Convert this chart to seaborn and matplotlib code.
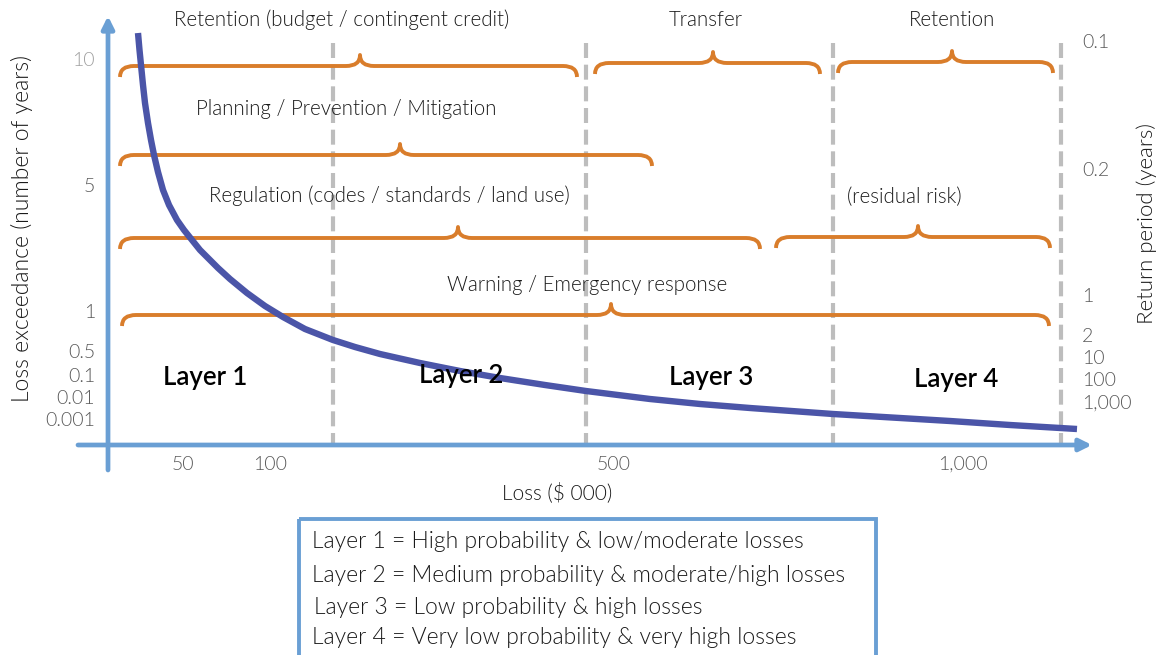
import matplotlib
matplotlib.use("Agg")
import matplotlib.pyplot as plt
from matplotlib.path import Path
from matplotlib.patches import PathPatch, Rectangle
import seaborn as sns

# ---- diagram data (layout units: 1164 x 655 canvas) ----
# exceedance curve, sampled along its length
curve_x = [138, 139.5, 141, 143, 145, 148, 151, 154, 158, 163, 169, 177, 184,
           192, 200, 208, 218, 230, 247, 265, 283, 305, 333, 355, 380, 420,
           460, 500, 545, 586, 650, 700, 750, 833, 900, 950, 1010, 1077]
curve_y = [33, 50, 65, 85, 103, 123, 140, 155, 172, 190, 205, 220, 230,
           240, 250, 258, 268, 279, 293, 306, 317, 329, 340, 347, 354, 363,
           371, 378, 385, 391, 399, 404, 408, 414, 418, 421, 425, 429]

# layer boundaries on the loss axis
layer_bounds = [333, 586, 833, 1061]
layer_names = ["Layer 1", "Layer 2", "Layer 3", "Layer 4"]
layer_label_x = [205, 461, 711, 956]
layer_label_y = [377, 376, 378, 380]

# strategy braces: start, end, tip position, baseline
brace_start = [120, 595, 838, 120, 120, 776, 122]
brace_end = [577, 820, 1053, 652, 760, 1050, 1049]
brace_tip = [360, 713, 952, 400, 458, 918, 611]
brace_level = [66, 63, 62, 155, 238, 237, 315]

strategy_text = ["Retention (budget / contingent credit)", "Transfer", "Retention",
                 "Planning / Prevention / Mitigation",
                 "Regulation (codes / standards / land use)", "(residual risk)",
                 "Warning / Emergency response"]
strategy_x = [342, 706, 952, 346, 389, 904, 587]
strategy_y = [20, 20, 20, 109, 196, 197, 285]

# axis tick labels
left_ticks = ["10", "5", "1", "0.5", "0.1", "0.01", "0.001"]
left_tick_y = [60, 186, 312, 353, 376, 399, 421]
right_ticks = ["0.1", "0.2", "1", "2", "10", "100", "1,000"]
right_tick_y = [43, 170, 296, 337, 358, 381, 403]
bottom_ticks = ["50", "100", "500", "1,000"]
bottom_tick_x = [183, 270, 614, 963]

legend_lines = ["Layer 1 = High probability & low/moderate losses",
                "Layer 2 = Medium probability & moderate/high losses",
                "Layer 3 = Low probability & high losses",
                "Layer 4 = Very low probability & very high losses"]
legend_x = [312, 312, 314, 312]
legend_y = [541, 576, 607, 637]

# ---- styling ----
sns.set_theme(style="white")
plt.rcParams["font.family"] = ["Lato", "DejaVu Sans"]

AXIS_BLUE = "#6A9FD4"
CURVE_BLUE = "#4B55A8"
ORANGE = "#D97D2B"
GREY = "#BDBDBD"
TXT = "#1A1A1A"
THIN = 300

fig = plt.figure(figsize=(11.64, 6.55), dpi=100)
ax = fig.add_axes([0, 0, 1, 1])
ax.set_xlim(0, 1164)
ax.set_ylim(655, 0)
ax.axis("off")

# dashed layer boundaries
for bx in layer_bounds:
    ax.plot([bx, bx], [43, 445], color=GREY, lw=3.0, dashes=(3.6, 1.6),
            solid_capstyle="butt", zorder=1)

# axes with arrowheads
ax.annotate("", xy=(108, 16), xytext=(108, 470),
            arrowprops=dict(arrowstyle="-|>", lw=3.4, color=AXIS_BLUE,
                            mutation_scale=18, shrinkA=0, shrinkB=0), zorder=2)
ax.annotate("", xy=(1092, 445), xytext=(78, 445),
            arrowprops=dict(arrowstyle="-|>", lw=3.4, color=AXIS_BLUE,
                            mutation_scale=18, shrinkA=0, shrinkB=0), zorder=2)


def brace(x0, x1, xp, y, h=11, r=14):
    verts = [(x0, y + h), (x0, y), (x0 + r, y),
             (xp - r, y), (xp, y), (xp, y - h),
             (xp, y), (xp + r, y),
             (x1 - r, y), (x1, y), (x1, y + h)]
    codes = [Path.MOVETO, Path.CURVE3, Path.CURVE3,
             Path.LINETO, Path.CURVE3, Path.CURVE3,
             Path.CURVE3, Path.CURVE3,
             Path.LINETO, Path.CURVE3, Path.CURVE3]
    return PathPatch(Path(verts, codes), fill=False, edgecolor=ORANGE,
                     lw=2.8, capstyle="butt", joinstyle="round", zorder=3)


for x0, x1, xp, y in zip(brace_start, brace_end, brace_tip, brace_level):
    ax.add_patch(brace(x0, x1, xp, y))

for t, x, y in zip(strategy_text, strategy_x, strategy_y):
    ax.text(x, y, t, ha="center", va="center", fontsize=14.8,
            fontweight=THIN, color=TXT, zorder=5)

# exceedance curve
sns.lineplot(x=curve_x, y=curve_y, sort=False, estimator=None, color=CURVE_BLUE,
             lw=4.6, ax=ax, zorder=4)
ax.lines[-1].set_solid_capstyle("butt")
ax.lines[-1].set_solid_joinstyle("round")

# layer labels
for name, x, y in zip(layer_names, layer_label_x, layer_label_y):
    ax.text(x, y, name, ha="center", va="center", fontsize=18.5,
            fontweight="semibold", color="black", zorder=6)

# tick labels
for i, (t, y) in enumerate(zip(left_ticks, left_tick_y)):
    ax.text(95, y, t, ha="right", va="center", fontsize=14, fontweight=THIN,
            color="#A0A0A0" if i == 0 else "#595959")
for t, y in zip(right_ticks, right_tick_y):
    ax.text(1082, y, t, ha="left", va="center", fontsize=14, fontweight=THIN,
            color="#595959")
for t, x in zip(bottom_ticks, bottom_tick_x):
    ax.text(x, 464, t, ha="center", va="center", fontsize=14, fontweight=THIN,
            color="#595959")

ax.text(557, 493, "Loss ($ 000)", ha="center", va="center", fontsize=15,
        fontweight=THIN, color=TXT)
ax.text(22, 228, "Loss exceedance (number of years)", ha="center", va="center",
        rotation=90, fontsize=16.5, fontweight=THIN, color=TXT)
ax.text(1147, 224, "Return period (years)", ha="center", va="center",
        rotation=90, fontsize=16, fontweight=THIN, color=TXT)

# explanation box
ax.add_patch(Rectangle((299, 519), 577, 150, fill=False, edgecolor=AXIS_BLUE,
                       lw=2.8, zorder=2))
for t, x, y in zip(legend_lines, legend_x, legend_y):
    ax.text(x, y, t, ha="left", va="center", fontsize=16.5, fontweight=THIN,
            color=TXT, zorder=5)

fig.savefig("out.png", dpi=100, facecolor="white")
